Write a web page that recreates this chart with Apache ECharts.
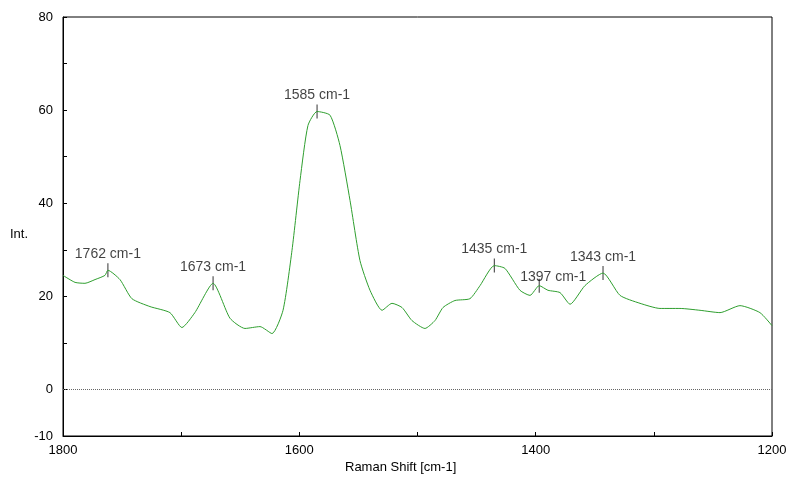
<!DOCTYPE html>
<html>
<head>
<meta charset="utf-8">
<script src="https://cdn.jsdelivr.net/npm/echarts@6/dist/echarts.min.js"></script>
<style>html,body{margin:0;padding:0;background:#fff}#chart{width:791px;height:482px}</style>
</head>
<body>
<div id="chart"></div>
<script>
// spectrum
var shift = [1800, 1789.8, 1781.4, 1772.9, 1764.5, 1762, 1751.8, 1741.7, 1726.4, 1709.5, 1699.4, 1688.4, 1673, 1658.7, 1646, 1633.3, 1623.1, 1613.8, 1606.2, 1599.4, 1592.7, 1585, 1574, 1565.6, 1557.1, 1548.7, 1540.2, 1530, 1521.6, 1513.1, 1504.7, 1493.7, 1485.2, 1478.4, 1468.3, 1455.6, 1447.1, 1435, 1426, 1413.3, 1404.8, 1397, 1389.6, 1379.4, 1370.9, 1358.3, 1343, 1328.6, 1311.7, 1294.8, 1277.9, 1260.9, 1244, 1227.1, 1210.2, 1200];
var intensity = [24.5, 23.0, 22.8, 23.6, 24.5, 25.6, 23.6, 19.5, 17.8, 16.5, 13.3, 16.5, 22.8, 15.3, 13.1, 13.5, 12.0, 17.0, 29.9, 44.9, 56.7, 59.7, 58.9, 52.4, 40.6, 27.7, 21.3, 17.0, 18.5, 17.6, 14.8, 13.1, 14.8, 17.6, 19.1, 19.5, 22.3, 26.6, 26.0, 21.3, 20.2, 22.3, 21.3, 20.8, 18.3, 22.3, 25.0, 20.2, 18.5, 17.4, 17.4, 17.0, 16.5, 18.0, 16.5, 13.7];
var peakShift = [1762, 1673, 1585, 1435, 1397, 1343];
var peakInt = [25.6, 22.8, 59.7, 26.6, 22.3, 25.0];

var chart = echarts.init(document.getElementById('chart'));
var font = 'Liberation Sans';
chart.setOption({
  animation: false,
  grid: {left: 63, right: 19, top: 17, bottom: 46, show: true, borderColor: '#000', borderWidth: 1},
  xAxis: {
    type: 'value', min: 1200, max: 1800, interval: 100, inverse: true,
    axisLine: {onZero: false, lineStyle: {color: '#000'}},
    axisTick: {inside: true, length: 4, lineStyle: {color: '#000'}},
    splitLine: {show: false},
    axisLabel: {color: '#000', fontFamily: font, fontSize: 13, margin: 8,
      formatter: function (v) { return v % 200 === 0 ? v : ''; }}
  },
  yAxis: {
    type: 'value', min: -10, max: 80, interval: 10,
    axisLine: {show: true, lineStyle: {color: '#000'}},
    axisTick: {inside: true, length: 4, lineStyle: {color: '#000'}},
    splitLine: {show: false},
    axisLabel: {color: '#000', fontFamily: font, fontSize: 13, margin: 10,
      formatter: function (v) { return (v === -10 || v % 20 === 0) ? v : ''; }}
  },
  graphic: [
    {type: 'text', left: 10, top: 228, style: {text: 'Int.', font: '13px ' + font, fill: '#000'}},
    {type: 'text', left: 345, top: 461, style: {text: 'Raman Shift [cm-1]', font: '13px ' + font, fill: '#000'}}
  ],
  series: [
    {
      type: 'line', symbol: 'none', smooth: 0.2,
      lineStyle: {color: '#2e9e2e', width: 1},
      data: shift.map(function (x, i) { return [x, intensity[i]]; }),
      markLine: {
        silent: true, symbol: 'none', label: {show: false},
        lineStyle: {color: '#666', type: 'dotted', width: 1},
        data: [{yAxis: 0}]
      }
    },
    {
      type: 'scatter', symbol: 'rect', symbolSize: [1, 14],
      itemStyle: {color: '#000'},
      label: {show: true, position: 'top', distance: 2, color: '#111', fontFamily: font, fontSize: 14,
        formatter: function (p) { return p.value[0] + ' cm-1'; }},
      labelLayout: function (p) { return p.dataIndex === 4 ? {dx: 14, dy: 8} : {}; },
      data: peakShift.map(function (x, i) { return [x, peakInt[i]]; })
    }
  ]
});
</script>
</body>
</html>
